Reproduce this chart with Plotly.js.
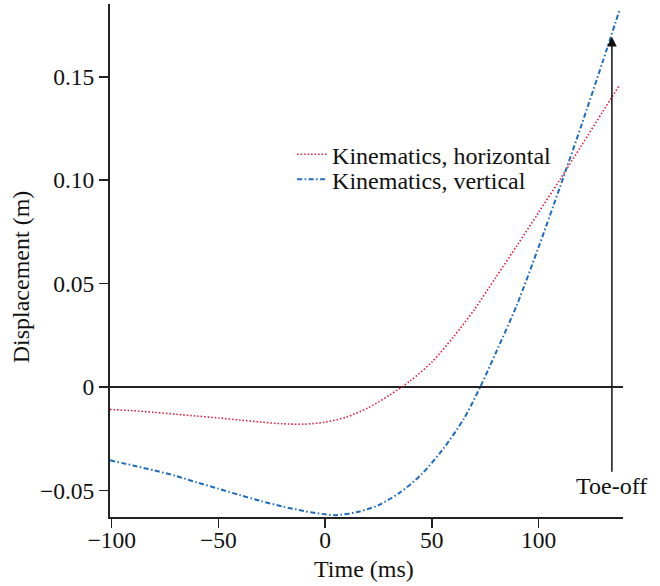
<!DOCTYPE html>
<html>
<head>
<meta charset="utf-8">
<script src="https://cdn.plot.ly/plotly-3.0.1.min.js"></script>
<style>html,body{margin:0;padding:0;background:#fff;}#chart{width:660px;height:586px;}</style>
</head>
<body>
<div id="chart"></div>
<script>
// Time samples (ms)
var timeH = [-100.8, -90, -80, -70, -60, -50, -40, -30, -20, -10, 0, 10, 20, 30, 40, 50, 60, 70, 80, 90, 100, 110, 120, 130, 138];
// Kinematics, horizontal displacement (m)
var dispH = [-0.0109, -0.0115, -0.0123, -0.0132, -0.0141, -0.0150, -0.0160, -0.0170, -0.0178, -0.0180, -0.0170, -0.0146, -0.0102, -0.0041, 0.0030, 0.0120, 0.0240, 0.0375, 0.0530, 0.0685, 0.0843, 0.1002, 0.1165, 0.1330, 0.1460];

var timeV = [-100.8, -90, -80, -70, -60, -50, -40, -30, -20, -10, 0, 5, 15, 25, 35, 45, 55, 65, 72.7, 80, 90, 100, 110, 120, 130, 138.2];
// Kinematics, vertical displacement (m)
var dispV = [-0.0355, -0.0380, -0.0404, -0.0430, -0.0462, -0.0492, -0.0523, -0.0552, -0.0578, -0.0600, -0.0616, -0.0620, -0.0605, -0.0572, -0.0511, -0.0424, -0.0304, -0.0154, 0.0, 0.0165, 0.0400, 0.0675, 0.0965, 0.1262, 0.1570, 0.1830];

var xTickVals = [-100, -50, 0, 50, 100];
var xTickText = ['\u2212100', '\u221250', '0', '50', '100'];
var yTickVals = [-0.05, 0, 0.05, 0.10, 0.15];
var yTickText = ['\u22120.05', '0', '0.05', '0.10', '0.15'];

var seriesNames = ['Kinematics, horizontal', 'Kinematics, vertical'];
var xTitle = 'Time (ms)';
var yTitle = 'Displacement (m)';
var toeOffLabel = 'Toe-off';
var toeOffTime = 134.4;
var toeOffArrow = [-0.048, 0.1694];

var FONT = 'Liberation Serif, Times New Roman, serif';
var FS = 23.5;
var FS2 = 24;
var INK = '#111111';

var traces = [
  {x: timeH, y: dispH, type: 'scatter', mode: 'lines', name: seriesNames[0],
   line: {color: '#e41a3a', width: 1.6, dash: '1.5px,2px', shape: 'spline', smoothing: 0.8}, legend: 'legend'},
  {x: timeV, y: dispV, type: 'scatter', mode: 'lines', name: seriesNames[1],
   line: {color: '#1f6bbd', width: 2, dash: '5px,2.5px,1.5px,2.5px', shape: 'spline', smoothing: 0.8}, legend: 'legend2'}
];

var legendCommon = {
  font: {family: FONT, size: FS2, color: INK},
  bgcolor: 'rgba(0,0,0,0)', borderwidth: 0,
  xanchor: 'left', yanchor: 'middle'
};

var layout = {
  width: 660, height: 586,
  margin: {l: 110, r: 37, t: 4, b: 69, pad: 0},
  paper_bgcolor: '#fff', plot_bgcolor: '#fff',
  font: {family: FONT, size: FS, color: INK},
  showlegend: true,
  legend: Object.assign({}, legendCommon, {x: 0.355, y: (516.7 - 154.5) / 512.7}),
  legend2: Object.assign({}, legendCommon, {x: 0.355, y: (516.7 - 179.5) / 512.7}),
  xaxis: {
    range: [-100.8, 139.6], showgrid: false, zeroline: false,
    showline: true, linecolor: '#222', linewidth: 2,
    ticks: 'outside', ticklen: 9, tickwidth: 1.5, tickcolor: '#222',
    tickvals: xTickVals, ticktext: xTickText, ticklabelstandoff: -8,
    tickfont: {family: FONT, size: FS, color: INK}
  },
  yaxis: {
    range: [-0.0629, 0.1852], showgrid: false,
    zeroline: true, zerolinecolor: '#222', zerolinewidth: 2,
    showline: true, linecolor: '#222', linewidth: 2,
    ticks: 'outside', ticklen: 9, tickwidth: 1.5, tickcolor: '#222',
    tickvals: yTickVals, ticktext: yTickText,
    tickfont: {family: FONT, size: FS, color: INK}
  },
  annotations: [{
    x: toeOffTime, y: toeOffArrow[1], xref: 'x', yref: 'y',
    ax: toeOffTime, ay: toeOffArrow[0], axref: 'x', ayref: 'y',
    text: toeOffLabel, showarrow: true,
    arrowhead: 2, arrowsize: 1.3, arrowwidth: 1.5, arrowcolor: '#111',
    font: {family: FONT, size: FS2, color: INK}
  }, {
    x: (20.7 - 110) / 512.7, y: (516.7 - 276.5) / 512.7, xref: 'paper', yref: 'paper',
    xanchor: 'center', yanchor: 'middle', textangle: -90, showarrow: false,
    text: yTitle, font: {family: FONT, size: FS2, color: INK}
  }, {
    x: (363.5 - 110) / 512.7, y: (516.7 - 568.9) / 512.7, xref: 'paper', yref: 'paper',
    xanchor: 'center', yanchor: 'middle', showarrow: false,
    text: xTitle, font: {family: FONT, size: FS2, color: INK}
  }]
};

Plotly.newPlot('chart', traces, layout, {displayModeBar: false, staticPlot: true});
</script>
</body>
</html>
